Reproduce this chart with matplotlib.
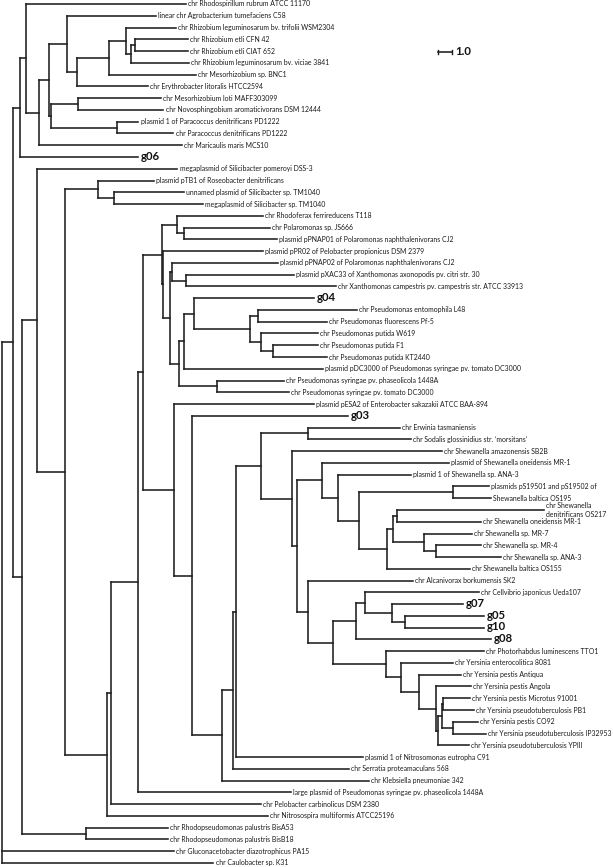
import re
import matplotlib
matplotlib.use("Agg")
import matplotlib.pyplot as plt
from matplotlib.collections import LineCollection

# ---------------- data ----------------
leaf_labels = [
    "chr Rhodospirillum rubrum ATCC 11170",
    "linear chr Agrobacterium tumefaciens C58",
    "chr Rhizobium leguminosarum bv. trifolii WSM2304",
    "chr Rhizobium etli CFN 42",
    "chr Rhizobium etli CIAT 652",
    "chr Rhizobium leguminosarum bv. viciae 3841",
    "chr Mesorhizobium sp. BNC1",
    "chr Erythrobacter litoralis HTCC2594",
    "chr Mesorhizobium loti MAFF303099",
    "chr Novosphingobium aromaticivorans DSM 12444",
    "plasmid 1 of Paracoccus denitrificans PD1222",
    "chr Paracoccus denitrificans PD1222",
    "chr Maricaulis maris MCS10",
    "g06",
    "megaplasmid of Silicibacter pomeroyi DSS-3",
    "plasmid pTB1 of Roseobacter denitrificans",
    "unnamed plasmid of Silicibacter sp. TM1040",
    "megaplasmid of Silicibacter sp. TM1040",
    "chr Rhodoferax ferrireducens T118",
    "chr Polaromonas sp. JS666",
    "plasmid pPNAP01 of Polaromonas naphthalenivorans CJ2",
    "plasmid pPR02 of Pelobacter propionicus DSM 2379",
    "plasmid pPNAP02 of Polaromonas naphthalenivorans CJ2",
    "plasmid pXAC33 of Xanthomonas axonopodis pv. citri str. 30",
    "chr Xanthomonas campestris pv. campestris str. ATCC 33913",
    "g04",
    "chr Pseudomonas entomophila L48",
    "chr Pseudomonas fluorescens Pf-5",
    "chr Pseudomonas putida W619",
    "chr Pseudomonas putida F1",
    "chr Pseudomonas putida KT2440",
    "plasmid pDC3000 of Pseudomonas syringae pv. tomato DC3000",
    "chr Pseudomonas syringae pv. phaseolicola 1448A",
    "chr Pseudomonas syringae pv. tomato DC3000",
    "plasmid pESA2 of Enterobacter sakazakii ATCC BAA-894",
    "g03",
    "chr Erwinia tasmaniensis",
    "chr Sodalis glossinidius str. \u2018morsitans\u2019",
    "chr Shewanella amazonensis SB2B",
    "plasmid of Shewanella oneidensis MR-1",
    "plasmid 1 of Shewanella sp. ANA-3",
    "plasmids pS19501 and pS19502 of",
    "Shewanella baltica OS195",
    "chr Shewanella\ndenitrificans OS217",
    "chr Shewanella oneidensis MR-1",
    "chr Shewanella sp. MR-7",
    "chr Shewanella sp. MR-4",
    "chr Shewanella sp. ANA-3",
    "chr Shewanella baltica OS155",
    "chr Alcanivorax borkumensis SK2",
    "chr Cellvibrio japonicus Ueda107",
    "g07",
    "g05",
    "g10",
    "g08",
    "chr Photorhabdus luminescens TTO1",
    "chr Yersinia enterocolitica 8081",
    "chr Yersinia pestis Antiqua",
    "chr Yersinia pestis Angola",
    "chr Yersinia pestis Microtus 91001",
    "chr Yersinia pseudotuberculosis PB1",
    "chr Yersinia pestis CO92",
    "chr Yersinia pseudotuberculosis IP32953",
    "chr Yersinia pseudotuberculosis YPIII",
    "plasmid 1 of Nitrosomonas eutropha C91",
    "chr Serratia proteamaculans 568",
    "chr Klebsiella pneumoniae 342",
    "large plasmid of Pseudomonas syringae pv. phaseolicola 1448A",
    "chr Pelobacter carbinolicus DSM 2380",
    "chr Nitrosospira multiformis ATCC25196",
    "chr Rhodopseudomonas palustris BisA53",
    "chr Rhodopseudomonas palustris BisB18",
    "chr Gluconacetobacter diazotrophicus PA15",
    "chr Caulobacter sp. K31",
]
bold_leaves = ["g06", "g04", "g03", "g07", "g05", "g10", "g08"]

# tree topology with branch lengths (Newick pieces, leaf ids = 1-based index in leaf_labels)
clade_alpha = ("((1:11.43,(((2:6.36,(((3:3.57,((4:3.79,5:3.79):0.29,6:4.14):0.36):1.21,"
               "7:6.21):2.29,8:5.07):0.71):1.29,((9:5.93,10:6.14):1.86,(11:1.5,12:4.0):4.71):0.21):0.71,"
               "13:10.21):0.93):0.43,14:8.43):0.5")
clade_sili = "(16:4.0,(17:5.0,18:6.36):1.14):2.36"
clade_beta = ("((19:6.14,(20:6.14,21:6.64):0.5):1.07,(22:7.14,((23:7.57,(24:7.71,25:10.71):1.0):0.14,"
              "(((26:8.57,((27:7.07,28:4.93):0.57,(29:4.07,(30:3.21,31:3.86):0.86):0.79):4.0):0.71,"
              "32:9.93):0.36,(33:4.79,34:5.14):2.71):0.64):0.5):0.07):1.36")
clade_shew = ("(40:9.07,(41:5.21,((42:2.57,43:2.71):6.71,(((44:10.5,45:6.0):0.29,"
              "(46:3.43,(47:3.21,48:4.64):0.86):2.21):0.43,49:5.93):2.0):1.5):1.14):1.79")
clade_gs = "((51:8.14,(52:5.07,(53:5.64,54:5.64):0.93):1.93):0.64,55:9.64):1.64"
clade_yers = ("(56:7.0,(57:3.71,(58:3.0,(59:2.5,(((60:1.93,61:2.21):0.07,(62:1.79,63:2.36):0.79):0.29,"
              "64:2.21):0.14):1.21):1.29):1.07):3.79")
clade_gamma = ("(35:10.0,(36:11.14,(((((37:6.57,38:7.36):3.36,(39:10.71,(" + clade_shew +
               ",(50:7.5,(" + clade_gs + "," + clade_yers + "):1.79):0.79):0.36):2.21):1.79,"
               "65:9.07):0.21,66:8.29):0.79,67:10.5):2.14):1.29):2.21")
clade_c = ("((15:10.07,(" + clade_sili + ",((((" + clade_beta + "," + clade_gamma +
           "):0.36,68:10.93):1.93,69:10.71):0.29,70:11.5):3.0):2.0):1.07,(71:5.86,72:5.86):4.57):0.64")
newick = "((" + clade_alpha + "," + clade_c + "):0.79,73:12.29,74:15.14);"

scale_bar_length = 1.0

assert newick.count("(") == newick.count(")")


# ---------------- parse & layout ----------------
def parse_newick(s):
    pos = 0

    def node():
        nonlocal pos
        children = []
        if s[pos] == "(":
            pos += 1
            while True:
                children.append(node())
                if s[pos] == ",":
                    pos += 1
                    continue
                if s[pos] == ")":
                    pos += 1
                    break
        m = re.match(r"[^:,();]*", s[pos:])
        name = m.group(0)
        pos += len(name)
        bl = 0.0
        if pos < len(s) and s[pos] == ":":
            pos += 1
            m = re.match(r"[0-9.eE+-]+", s[pos:])
            bl = float(m.group(0))
            pos += len(m.group(0))
        return {"name": name, "bl": bl, "children": children}

    return node()


root = parse_newick(newick)
counter = [0]


def layout(n, depth):
    n["x"] = depth + n["bl"]
    if n["children"]:
        for c in n["children"]:
            layout(c, n["x"])
        n["y"] = (n["children"][0]["y"] + n["children"][-1]["y"]) / 2.0
    else:
        counter[0] += 1
        n["y"] = counter[0]


root["bl"] = 0.0
layout(root, 0.0)
assert counter[0] == len(leaf_labels), counter[0]

segs = []
leaves = []


def collect(n, parent_x=None):
    if parent_x is not None:
        segs.append([(parent_x, n["y"]), (n["x"], n["y"])])
    if n["children"]:
        segs.append([(n["x"], n["children"][0]["y"]), (n["x"], n["children"][-1]["y"])])
        for c in n["children"]:
            collect(c, n["x"])
    else:
        leaves.append(n)


collect(root)

# ---------------- draw ----------------
W_PX, H_PX = 613, 867
PX_PER_UNIT = 14.0
fig = plt.figure(figsize=(W_PX / 100, H_PX / 100), dpi=100)
ax = fig.add_axes([0, 0, 1, 1])
ax.set_axis_off()
n_leaves = len(leaf_labels)
row_px = (863 - 4) / (n_leaves - 1)
ax.set_xlim(-1.5 / PX_PER_UNIT, (W_PX - 1.5) / PX_PER_UNIT)
ax.set_ylim(n_leaves + (H_PX - 863) / row_px, 1 - 4 / row_px)

LINE_C = "#1e1e1e"
lc = LineCollection(segs, colors=LINE_C, linewidths=1.15, capstyle="projecting", joinstyle="miter")
ax.add_collection(lc)

FONT = ["Lato", "DejaVu Sans"]

# calibrate label font size so that label widths match the reference's typeface widths
renderer = fig.canvas.get_renderer()
calib = [("chr Rhodospirillum rubrum ATCC 11170", 127.0),
         ("chr Photorhabdus luminescens TTO1", 111.0),
         ("chr Yersinia pseudotuberculosis IP32953", 121.0),
         ("plasmids pS19501 and pS19502 of", 108.0)]
ratios = []
for s, target in calib:
    t = fig.text(0, 0, s, fontsize=10, family=FONT)
    w = t.get_window_extent(renderer).width
    ratios.append(target / w)
    t.remove()
label_fs = 10 * sum(ratios) / len(ratios)

for lf in leaves:
    lab = leaf_labels[int(lf["name"]) - 1]
    if lab in bold_leaves:
        ax.annotate(lab, (lf["x"], lf["y"]), xytext=(2.2, 0.6), textcoords="offset points",
                    va="center", ha="left", fontsize=8.2, fontweight="bold", family=FONT, color="#111111")
    else:
        ax.annotate(lab, (lf["x"], lf["y"]), xytext=(1.6, 0), textcoords="offset points",
                    va="center", ha="left", fontsize=label_fs, family=FONT, color="#1a1a1a",
                    linespacing=1.25)

# scale bar
sb_x0 = (438 - 1.5) / PX_PER_UNIT
sb_y = 1 + (52 - 4) / row_px
tick = 2.2 / row_px
ax.plot([sb_x0, sb_x0 + scale_bar_length], [sb_y, sb_y], color=LINE_C, lw=1.15)
ax.plot([sb_x0, sb_x0], [sb_y - tick, sb_y + tick], color=LINE_C, lw=1.0)
ax.plot([sb_x0 + scale_bar_length] * 2, [sb_y - tick, sb_y + tick], color=LINE_C, lw=1.0)
ax.annotate(f"{scale_bar_length:.1f}", (sb_x0 + scale_bar_length, sb_y), xytext=(2.5, 0.4),
            textcoords="offset points", va="center", ha="left", fontsize=8.2,
            fontweight="bold", family=FONT, color="#111111")

fig.savefig("out.png", dpi=100)
